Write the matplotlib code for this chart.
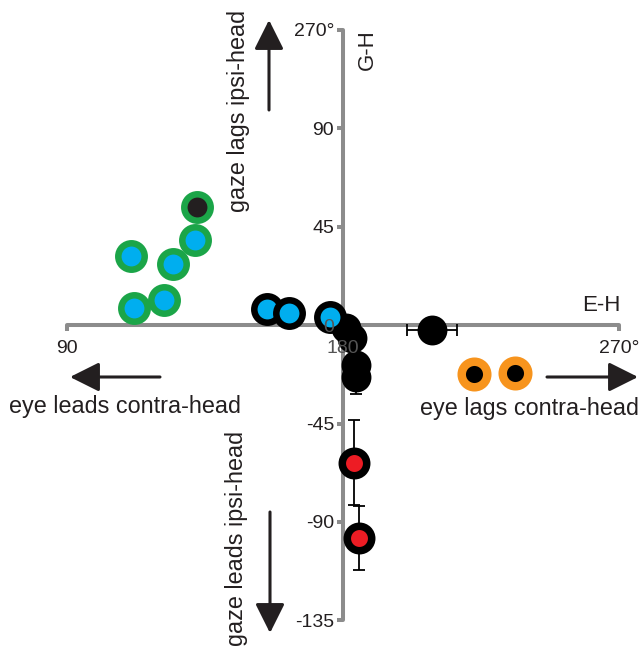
import numpy as np
import matplotlib
matplotlib.use("Agg")
import matplotlib.pyplot as plt

plt.rcParams['font.family'] = ['Liberation Sans', 'DejaVu Sans']

# E-H (x) and G-H (y) phase values, grouped by marker style
green_x = [110.9, 124.6, 131.7, 111.8, 121.6]
green_y = [31.5, 27.9, 38.8, 7.8, 11.4]
green_dark_x = [132.4]
green_dark_y = [53.9]
ringblue_x = [155.2, 162.4, 175.8]
ringblue_y = [7.3, 5.5, 3.7]
black_x = [181.0, 182.9, 184.2, 184.2, 209.0]
black_y = [-1.4, -5.9, -18.3, -23.8, -2.3]
black_xerr = [0, 0, 0, 0, 8.3]
black_yerr = [0, 0, 0, 7.8, 0]
orange_x = [222.7, 236.1]
orange_y = [-22.4, -21.9]
red_x = [183.6, 185.2]
red_y = [-63.0, -97.3]
red_yerr = [19.4, 14.6]

xticks = [90, 180, 270]
xticklabels = ['90', '180', '270°']
yticks = [-135, -90, -45, 0, 45, 90, 135]
yticklabels = ['-135', '-90', '-45', '0', '45', '90', '270°']

W, H = 641, 652
fig = plt.figure(figsize=(W / 100, H / 100), dpi=100)
ax = fig.add_axes([0, 0, 1, 1])
ax.set_xlim(68.15, 277.15)
ax.set_ylim(-149.4, 148.5)

gray = '#8c8c8c'
txt = '#231f20'
for s in ['top', 'right']:
    ax.spines[s].set_visible(False)
ax.spines['left'].set_position(('data', 180))
ax.spines['bottom'].set_position(('data', 0))
ax.spines['left'].set_bounds(-135, 135)
ax.spines['bottom'].set_bounds(90, 270)
for s in ['left', 'bottom']:
    ax.spines[s].set_color(gray)
    ax.spines[s].set_linewidth(2.9)
    ax.spines[s].set_capstyle('round')

ax.set_xticks(xticks)
ax.set_xticklabels(xticklabels)
ax.set_yticks(yticks)
ax.set_yticklabels(yticklabels)
ax.tick_params(axis='y', direction='out', length=4.5, width=2.9, color=gray,
               pad=2, labelsize=14, labelcolor=txt)
ax.tick_params(axis='x', direction='out', length=4.5, width=2.9, color=gray,
               pad=6, labelsize=14, labelcolor=txt)
# no tick marks at the crossing point, labels drawn over the markers
xt = ax.xaxis.get_major_ticks()[1]
yt = ax.yaxis.get_major_ticks()[3]
xt.tick1line.set_visible(False)
yt.tick1line.set_visible(False)
xt.label1.set_color('#555555')
yt.label1.set_color('#555555')
ax.xaxis.set_zorder(6)
ax.yaxis.set_zorder(6)
ax.patch.set_visible(False)

# error bars
ax.errorbar(black_x, black_y, xerr=black_xerr, yerr=black_yerr, fmt='none',
            ecolor='black', elinewidth=1.3, capsize=4.5, capthick=1.3, zorder=3)
ax.errorbar(red_x, red_y, yerr=red_yerr, fmt='none',
            ecolor='black', elinewidth=1.3, capsize=4.5, capthick=1.3, zorder=3)

green = '#1ba548'
blue = '#00aeef'
ax.plot(green_x, green_y, 'o', ms=19, mew=4.7, mfc=blue, mec=green, ls='none', zorder=4)
ax.plot(green_dark_x, green_dark_y, 'o', ms=19, mew=4.7, mfc='#231f20', mec=green, ls='none', zorder=4)
ax.plot(black_x, black_y, 'o', ms=18.5, mew=3, mfc='black', mec='black', ls='none', zorder=4)
ax.plot(ringblue_x, ringblue_y, 'o', ms=19, mew=4.7, mfc=blue, mec='black', ls='none', zorder=5)
ax.plot(orange_x, orange_y, 'o', ms=18.4, mew=6.1, mfc='black', mec='#f7941d', ls='none', zorder=4)
ax.plot(red_x, red_y, 'o', ms=17.6, mew=5.4, mfc='#ed1c24', mec='black', ls='none', zorder=4)


def fx(px):
    return px / W


def fy(py):
    return 1 - py / H


# direction labels
ax.text(fx(239), fy(111), 'gaze lags ipsi-head', rotation=90, ha='center', va='center',
        fontsize=16.8, color=txt, transform=fig.transFigure)
ax.text(fx(237), fy(538), 'gaze leads ipsi-head', rotation=90, ha='center', va='center',
        fontsize=16.8, color=txt, transform=fig.transFigure)
ax.text(fx(125), fy(407), 'eye leads contra-head', ha='center', va='center',
        fontsize=16.8, color=txt, transform=fig.transFigure)
ax.text(fx(530), fy(408), 'eye lags contra-head', ha='center', va='center',
        fontsize=16.8, color=txt, transform=fig.transFigure)
ax.text(fx(367), fy(50), 'G-H', rotation=90, ha='center', va='center',
        fontsize=16, color=txt, transform=fig.transFigure)
ax.text(fx(601), fy(305), 'E-H', ha='center', va='center',
        fontsize=16, color=txt, transform=fig.transFigure)

arrow = dict(arrowstyle='-|>', lw=2.2, color=txt, mutation_scale=45,
             shrinkA=0, shrinkB=0)
for (x0, y0), (x1, y1) in [((269, 110), (269, 20)),
                           ((270, 512), (270, 633)),
                           ((160, 377), (70, 377)),
                           ((547, 377), (638, 377))]:
    ax.annotate('', xy=(fx(x1), fy(y1)), xytext=(fx(x0), fy(y0)),
                xycoords='figure fraction', textcoords='figure fraction',
                arrowprops=arrow)

fig.savefig('out.png', dpi=100)
